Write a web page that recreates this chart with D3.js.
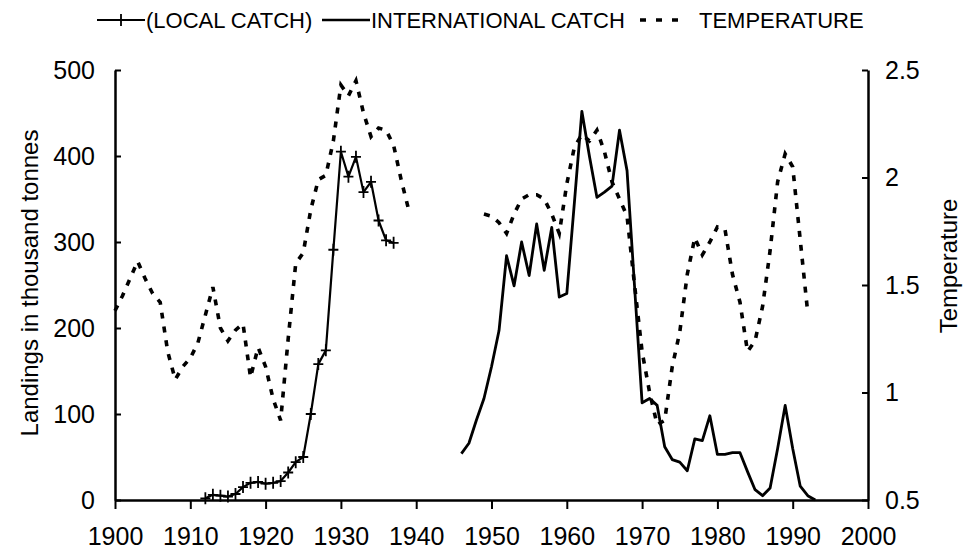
<!DOCTYPE html>
<html>
<head>
<meta charset="utf-8">
<script src="https://cdn.jsdelivr.net/npm/d3@7"></script>
<style>
  html, body { margin: 0; padding: 0; background: #fff; }
  svg { display: block; }
  text { font-family: "Liberation Sans", Arial, Helvetica, sans-serif; fill: #000; }
</style>
</head>
<body>
<svg id="chart" width="972" height="558"></svg>
<script>
// Local catch, thousand tonnes
const localYears = [1912, 1913, 1914, 1915, 1916, 1917, 1918, 1919, 1920, 1921, 1922, 1923, 1924,
  1925, 1926, 1927, 1928, 1929, 1930, 1931, 1932, 1933, 1934, 1935, 1936, 1937];
const localCatch = [2, 6, 5, 4, 7, 15, 20, 21, 19, 20, 22, 32, 44,
  50, 100, 158, 174, 291, 405, 376, 399, 358, 370, 325, 302, 299];

// International catch, thousand tonnes
const intlYears = [1946, 1947, 1948, 1949, 1950, 1951, 1952, 1953, 1954, 1955, 1956, 1957, 1958,
  1959, 1960, 1961, 1962, 1963, 1964, 1965, 1966, 1967, 1968, 1969, 1970, 1971, 1972, 1973,
  1974, 1975, 1976, 1977, 1978, 1979, 1980, 1981, 1982, 1983, 1984, 1985, 1986, 1987, 1988,
  1989, 1990, 1991, 1992, 1993];
const intlCatch = [54, 66, 93, 118, 155, 197, 284, 249, 300, 261, 321, 267, 317,
  236, 240, 345, 452, 400, 352, 358, 365, 430, 383, 248, 113, 118, 110, 62,
  47, 44, 34, 71, 69, 98, 53, 53, 55, 55, 33, 12, 5, 14, 60,
  110, 60, 16, 5, 0];

// Temperature, two observation periods
const tempYearsA = [1900, 1901, 1902, 1903, 1904, 1905, 1906, 1907, 1908, 1909, 1910, 1911, 1912,
  1913, 1914, 1915, 1916, 1917, 1918, 1919, 1920, 1921, 1922, 1923, 1924, 1925, 1926, 1927,
  1928, 1929, 1930, 1931, 1932, 1933, 1934, 1935, 1936, 1937, 1938, 1939];
const tempA = [1.38, 1.45, 1.53, 1.61, 1.53, 1.46, 1.42, 1.19, 1.06, 1.12, 1.16, 1.23, 1.36,
  1.49, 1.30, 1.24, 1.29, 1.32, 1.07, 1.21, 1.12, 0.97, 0.87, 1.25, 1.60, 1.65, 1.85, 1.99,
  2.01, 2.17, 2.43, 2.38, 2.45, 2.30, 2.19, 2.23, 2.22, 2.15, 1.99, 1.85];
const tempYearsB = [1949, 1950, 1951, 1952, 1953, 1954, 1955, 1956, 1957, 1958, 1959, 1960, 1961,
  1962, 1963, 1964, 1965, 1966, 1967, 1968, 1969, 1970, 1971, 1972, 1973, 1974, 1975, 1976,
  1977, 1978, 1979, 1980, 1981, 1982, 1983, 1984, 1985, 1986, 1987, 1988, 1989, 1990, 1991, 1992];
const tempB = [1.83, 1.82, 1.79, 1.74, 1.83, 1.90, 1.92, 1.92, 1.90, 1.83, 1.74, 1.97, 2.14,
  2.20, 2.17, 2.22, 2.12, 1.98, 1.90, 1.82, 1.50, 1.19, 1.00, 0.85, 0.87, 1.12, 1.28, 1.55,
  1.72, 1.64, 1.70, 1.77, 1.76, 1.55, 1.42, 1.19, 1.24, 1.40, 1.66, 1.98, 2.11, 2.05, 1.71, 1.37];

const xTicks = [1900, 1910, 1920, 1930, 1940, 1950, 1960, 1970, 1980, 1990, 2000];
const leftTicks = [0, 100, 200, 300, 400, 500];
const rightTicks = [0.5, 1, 1.5, 2, 2.5];

const legendLabels = ["(LOCAL CATCH)", "INTERNATIONAL CATCH", "TEMPERATURE"];

const svg = d3.select("#chart");
const plot = { left: 115, right: 868, top: 70, bottom: 500 };

const x = d3.scaleLinear().domain([1900, 2000]).range([plot.left, plot.right]);
const yL = d3.scaleLinear().domain([0, 500]).range([plot.bottom, plot.top]);
const yR = d3.scaleLinear().domain([0.5, 2.5]).range([plot.bottom, plot.top]);

const tickFont = 25;

// Bottom axis
const xAxis = svg.append("g")
  .attr("transform", `translate(0,${plot.bottom})`)
  .call(d3.axisBottom(x).tickValues(xTicks).tickFormat(d3.format("d")).tickSizeInner(9).tickSizeOuter(0).tickPadding(18));

// Left axis, ticks pointing inward
const leftAxis = svg.append("g")
  .attr("transform", `translate(${plot.left},0)`)
  .call(d3.axisLeft(yL).tickValues(leftTicks).tickSizeInner(-6).tickSizeOuter(0).tickPadding(20));

// Right axis, ticks pointing inward
const rightAxis = svg.append("g")
  .attr("transform", `translate(${plot.right},0)`)
  .call(d3.axisRight(yR).tickValues(rightTicks).tickFormat(d => String(d)).tickSizeInner(-6).tickSizeOuter(0).tickPadding(17));

[xAxis, leftAxis, rightAxis].forEach(g => {
  g.select(".domain").attr("stroke", "#000").attr("stroke-width", 2.5);
  g.selectAll(".tick line").attr("stroke", "#000").attr("stroke-width", 2);
  g.selectAll(".tick text").attr("font-size", tickFont).attr("font-family", "Liberation Sans, Arial, sans-serif").attr("fill", "#000");
});

// Axis titles
svg.append("text")
  .attr("transform", `translate(38,283) rotate(-90)`)
  .attr("text-anchor", "middle")
  .attr("font-size", 24)
  .text("Landings in thousand tonnes");

svg.append("text")
  .attr("transform", `translate(957,266) rotate(-90)`)
  .attr("text-anchor", "middle")
  .attr("font-size", 24)
  .text("Temperature");

// Temperature (dashed), one path per observation period
const tempLine = d3.line().x(d => x(d[0])).y(d => yR(d[1]));
[[tempYearsA, tempA], [tempYearsB, tempB]].forEach(([yrs, vals]) => {
  svg.append("path")
    .datum(yrs.map((yr, i) => [yr, vals[i]]))
    .attr("fill", "none")
    .attr("stroke", "#000")
    .attr("stroke-width", 3.6)
    .attr("stroke-dasharray", "6,8")
    .attr("d", tempLine);
});

// International catch
const catchLine = d3.line().x(d => x(d[0])).y(d => yL(d[1]));
svg.append("path")
  .datum(intlYears.map((yr, i) => [yr, intlCatch[i]]))
  .attr("fill", "none")
  .attr("stroke", "#000")
  .attr("stroke-width", 2.8)
  .attr("stroke-linejoin", "round")
  .attr("d", catchLine);

// Local catch with cross markers
const localData = localYears.map((yr, i) => [yr, localCatch[i]]);
svg.append("path")
  .datum(localData)
  .attr("fill", "none")
  .attr("stroke", "#000")
  .attr("stroke-width", 2.2)
  .attr("stroke-linejoin", "round")
  .attr("d", catchLine);

const crossPath = (cx, cy) => `M${cx - 5},${cy}h10M${cx},${cy - 6}v12`;
svg.append("g").selectAll("path")
  .data(localData)
  .join("path")
  .attr("fill", "none")
  .attr("stroke", "#000")
  .attr("stroke-width", 1.8)
  .attr("d", d => crossPath(x(d[0]), yL(d[1])));

// Legend
const legY = 20;
const leg = svg.append("g").attr("font-size", 22);
leg.append("path").attr("stroke", "#000").attr("stroke-width", 2).attr("d", `M97,${legY}H145`);
leg.append("path").attr("stroke", "#000").attr("stroke-width", 1.8).attr("d", crossPath(121, legY));
leg.append("text").attr("x", 146).attr("y", legY + 8).text(legendLabels[0]);

leg.append("path").attr("stroke", "#000").attr("stroke-width", 2.6).attr("d", `M322,${legY}H370`);
leg.append("text").attr("x", 371).attr("y", legY + 8).text(legendLabels[1]);

leg.append("path").attr("stroke", "#000").attr("stroke-width", 3.6)
  .attr("stroke-dasharray", "6,10").attr("d", `M640,${legY}H688`);
leg.append("text").attr("x", 699).attr("y", legY + 8).text(legendLabels[2]);
</script>
</body>
</html>
